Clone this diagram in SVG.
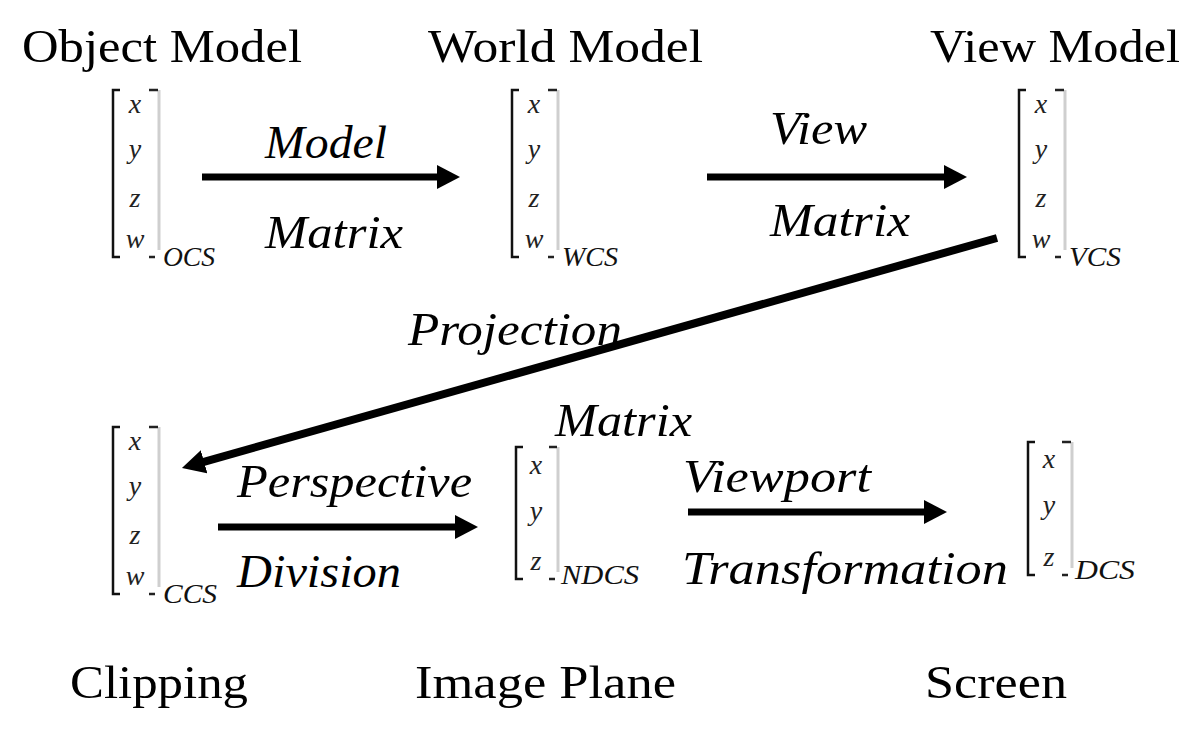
<svg xmlns="http://www.w3.org/2000/svg" width="1193" height="741" viewBox="0 0 1193 741">
<style>
.title{font-family:"Liberation Serif",serif;font-size:47px;fill:#000}
.lbl{font-family:"Liberation Serif",serif;font-style:italic;font-size:47px;fill:#000}
.v{font-family:"Liberation Serif",serif;font-style:italic;font-size:28px;fill:#222;text-anchor:middle}
.sub{font-family:"Liberation Serif",serif;font-style:italic;font-size:27px;fill:#111}
.lb{fill:none;stroke:#111;stroke-width:2.5}
.rg{fill:none;stroke:#cfcfcf;stroke-width:3}
.rt{fill:none;stroke:#222;stroke-width:2.5}
.arr{stroke:#000;stroke-width:7;fill:none}
</style>
<defs>
<marker id="ah" viewBox="0 0 23 24" refX="3" refY="12" markerWidth="23" markerHeight="24" markerUnits="userSpaceOnUse" orient="auto">
<path d="M0,0 L23,12 L0,24 Z" fill="#000"/>
</marker>
</defs>
<rect width="1193" height="741" fill="#fff"/>

<g id="title-object"><text class="title" x="22" y="62" textLength="280" lengthAdjust="spacingAndGlyphs">Object Model</text></g>
<g id="title-world"><text class="title" x="428" y="62" textLength="275" lengthAdjust="spacingAndGlyphs">World Model</text></g>
<g id="title-view"><text class="title" x="930" y="62" textLength="250" lengthAdjust="spacingAndGlyphs">View Model</text></g>

<g id="m-ocs" transform="translate(113,90)">
<path class="lb" d="M7,0 H0 V167 H7"/>
<path class="rg" d="M46,0 V160"/>
<path class="rt" d="M36,0 H45 M36,167 H42"/>
<text class="v" x="22" y="23">x</text><text class="v" x="22" y="68">y</text><text class="v" x="22" y="117">z</text><text class="v" x="22" y="158">w</text>
<text class="sub" x="50" y="176" textLength="52" lengthAdjust="spacingAndGlyphs">OCS</text>
</g>
<g id="m-wcs" transform="translate(512,90)">
<path class="lb" d="M7,0 H0 V167 H7"/>
<path class="rg" d="M46,0 V160"/>
<path class="rt" d="M36,0 H45 M36,167 H42"/>
<text class="v" x="22" y="23">x</text><text class="v" x="22" y="68">y</text><text class="v" x="22" y="117">z</text><text class="v" x="22" y="158">w</text>
<text class="sub" x="50" y="176" textLength="56" lengthAdjust="spacingAndGlyphs">WCS</text>
</g>
<g id="m-vcs" transform="translate(1019,90)">
<path class="lb" d="M7,0 H0 V167 H7"/>
<path class="rg" d="M46,0 V160"/>
<path class="rt" d="M36,0 H45 M36,167 H42"/>
<text class="v" x="22" y="23">x</text><text class="v" x="22" y="68">y</text><text class="v" x="22" y="117">z</text><text class="v" x="22" y="158">w</text>
<text class="sub" x="50" y="176" textLength="52" lengthAdjust="spacingAndGlyphs">VCS</text>
</g>
<g id="m-ccs" transform="translate(113,427)">
<path class="lb" d="M7,0 H0 V167 H7"/>
<path class="rg" d="M46,0 V160"/>
<path class="rt" d="M36,0 H45 M36,167 H42"/>
<text class="v" x="22" y="23">x</text><text class="v" x="22" y="68">y</text><text class="v" x="22" y="117">z</text><text class="v" x="22" y="158">w</text>
<text class="sub" x="50" y="176" textLength="54" lengthAdjust="spacingAndGlyphs">CCS</text>
</g>
<g id="m-ndcs" transform="translate(516,447)">
<path class="lb" d="M7,0 H0 V132 H7"/>
<path class="rg" d="M42,0 V125"/>
<path class="rt" d="M33,0 H41 M33,132 H39"/>
<text class="v" x="20" y="27">x</text><text class="v" x="20" y="73">y</text><text class="v" x="20" y="123">z</text>
<text class="sub" x="45" y="137" textLength="78" lengthAdjust="spacingAndGlyphs">NDCS</text>
</g>
<g id="m-dcs" transform="translate(1028,442)">
<path class="lb" d="M7,0 H0 V133 H7"/>
<path class="rg" d="M44,0 V126"/>
<path class="rt" d="M34,0 H43 M34,133 H40"/>
<text class="v" x="21" y="26">x</text><text class="v" x="21" y="72">y</text><text class="v" x="21" y="124">z</text>
<text class="sub" x="47" y="137" textLength="60" lengthAdjust="spacingAndGlyphs">DCS</text>
</g>

<g id="label-clipping"><text class="title" x="70" y="698" textLength="178" lengthAdjust="spacingAndGlyphs">Clipping</text></g>
<g id="label-image"><text class="title" x="415" y="698" textLength="261" lengthAdjust="spacingAndGlyphs">Image Plane</text></g>
<g id="label-screen"><text class="title" x="925" y="698" textLength="142" lengthAdjust="spacingAndGlyphs">Screen</text></g>

<g id="connectors">
<line class="arr" x1="202" y1="177" x2="440" y2="177" marker-end="url(#ah)"/>
<line class="arr" x1="707" y1="177" x2="947" y2="177" marker-end="url(#ah)"/>
<line class="arr" style="stroke-width:8" x1="997" y1="238" x2="201.2" y2="462.6" marker-end="url(#ah)"/>
<line class="arr" x1="218" y1="527" x2="458" y2="527" marker-end="url(#ah)"/>
<line class="arr" x1="688" y1="512" x2="927" y2="512" marker-end="url(#ah)"/>
</g>

<g id="connector-labels">
<text class="lbl" x="265" y="158" textLength="122" lengthAdjust="spacingAndGlyphs">Model</text>
<text class="lbl" x="265" y="248" textLength="138" lengthAdjust="spacingAndGlyphs">Matrix</text>
<text class="lbl" x="770" y="144" textLength="97" lengthAdjust="spacingAndGlyphs">View</text>
<text class="lbl" x="770" y="236" textLength="140" lengthAdjust="spacingAndGlyphs">Matrix</text>
<text class="lbl" x="408" y="345" textLength="214" lengthAdjust="spacingAndGlyphs">Projection</text>
<text class="lbl" x="555" y="436" textLength="137" lengthAdjust="spacingAndGlyphs">Matrix</text>
<text class="lbl" x="237" y="497" textLength="235" lengthAdjust="spacingAndGlyphs">Perspective</text>
<text class="lbl" x="237" y="587" textLength="164" lengthAdjust="spacingAndGlyphs">Division</text>
<text class="lbl" x="683" y="492" textLength="188" lengthAdjust="spacingAndGlyphs">Viewport</text>
<text class="lbl" x="682" y="584" textLength="326" lengthAdjust="spacingAndGlyphs">Transformation</text>
</g>
</svg>
